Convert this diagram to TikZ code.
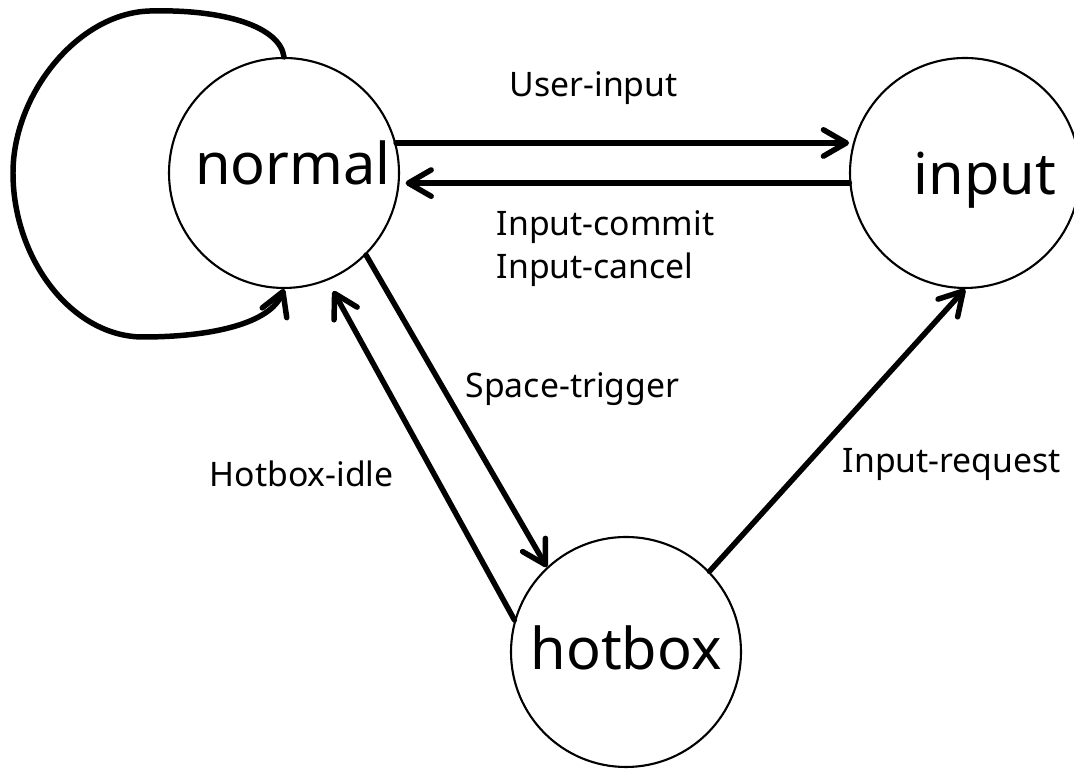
\documentclass[tikz,border=0pt]{standalone}
\usepackage{fontspec}
\setmainfont{Noto Sans}
\usetikzlibrary{arrows.meta}

\begin{document}
\begin{tikzpicture}[
    st/.style={draw, circle, line width=0.6pt, minimum size=2.3cm, inner sep=0pt,
      text depth=0pt, font=\fontsize{16.4}{20}\selectfont},
    tr/.style={line width=1.56pt, line cap=round, -{Straight Barb[length=6.5pt, width=7.5pt, round]}},
    lbl/.style={anchor=base west, inner sep=0pt, align=left, font=\fontsize{9.6}{12.5}\selectfont}]
  \useasboundingbox (0,0) rectangle (10.74,7.69);
  \node[st, text height=2.4mm] (normal) at (2.84,5.96) {\hspace{1.8mm}normal};
  \node[st, text height=4.4mm] (input) at (9.65,5.96) {\hspace{4mm}input};
  \node[st, text height=3.6mm] (hotbox) at (6.26,1.17) {hotbox};
  \draw[tr] (normal.north) .. controls (2.80,7.42) and (2.25,7.60) .. (1.50,7.58)
    .. controls (0.78,7.56) and (0.13,6.75) .. (0.13,5.96)
    .. controls (0.13,5.10) and (0.72,4.32) .. (1.43,4.32)
    .. controls (2.10,4.32) and (2.70,4.45) .. (normal.south);
  \draw[tr, shorten >=1.1pt] (normal.15) -- (input.165);
  \draw[tr, shorten >=1.7pt] (input.185) -- (normal.-5);
  \draw[tr] (normal.-45) -- (hotbox.133);
  \draw[tr, shorten >=3.4pt] (hotbox.164) -- (normal.-68);
  \draw[tr] (hotbox.44) -- (input.-90);
  \node[lbl] (lbluser) at (5.09,6.72) {User-input};
  \node[lbl] (lblcommit) at (4.96,4.90) {Input-commit\\Input-cancel};
  \node[lbl] (lblspace) at (4.65,3.71) {Space-trigger};
  \node[lbl] (lblidle) at (2.09,2.82) {Hotbox-idle};
  \node[lbl] (lblrequest) at (8.42,2.96) {Input-request};
\end{tikzpicture}
\end{document}
